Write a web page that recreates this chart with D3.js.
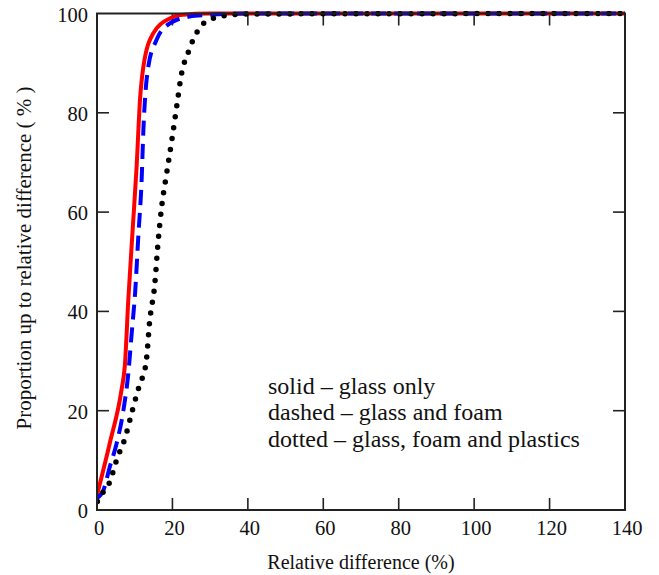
<!DOCTYPE html>
<html>
<head>
<meta charset="utf-8">
<script src="https://cdn.jsdelivr.net/npm/d3@7"></script>
<style>
  html, body { margin: 0; padding: 0; background: #fff; }
  svg text { font-family: "Liberation Serif", "Times New Roman", serif; fill: #111; }
</style>
</head>
<body>
<svg id="chart" width="659" height="575"></svg>
<script>
// Cumulative proportion (%) of samples up to a given relative difference (%)
const glassX = [0, 3.4, 6.5, 7.4, 8.3, 9.4, 10.5, 11.4, 12.3, 14.9, 19.3, 22, 30, 140];
const glassY = [3.0, 13.5, 24.2, 29.2, 42.3, 55.8, 69.1, 82.6, 89.3, 96.0, 99.0, 99.7, 100, 100];

const foamX = [0, 1.7, 3.4, 5.2, 7.0, 8.3, 9.2, 10.1, 11.0, 11.8, 12.3, 13.6, 15.8, 19.3, 24.6, 29, 40, 140];
const foamY = [2.4, 4.0, 8.7, 13.4, 20.1, 27.5, 35.6, 43.7, 55.7, 65.8, 76.5, 89.3, 94.7, 98.0, 99.4, 99.7, 100, 100];

const plasticsX = [0.1, 1.7, 3.4, 5.2, 7.4, 9.6, 11.2, 13.0, 14.0, 15.3, 16.2, 17.1, 18.4, 19.8, 21.1, 22.4, 24.2, 26.4, 28.1, 30.8, 33.4, 40, 140];
const plasticsY = [1.7, 3.7, 5.7, 10.1, 14.4, 20.7, 25.0, 29.6, 38.3, 45.3, 54.0, 60.8, 67.5, 74.3, 81.1, 87.8, 92.2, 96.1, 97.9, 99.0, 99.5, 99.9, 100];

const xTicks = [0, 20, 40, 60, 80, 100, 120, 140];
const yTicks = [0, 20, 40, 60, 80, 100];
const legendLines = ["solid \u2013 glass only", "dashed \u2013 glass and foam", "dotted \u2013 glass, foam and plastics"];

const svg = d3.select("#chart");
const plotL = 97, plotR = 625, plotT = 13.5, plotB = 510;

const x = d3.scaleLinear().domain([0, 140]).range([plotL, plotR]);
const y = d3.scaleLinear().domain([0, 100]).range([plotB, plotT]);

// tick marks on all four sides, pointing inward
const tickLen = 12;
const g = svg.append("g");
g.selectAll(".xt").data(xTicks.slice(1, -1)).join("g").each(function(d) {
  const s = d3.select(this);
  s.append("line").attr("x1", x(d)).attr("x2", x(d)).attr("y1", plotB).attr("y2", plotB - tickLen);
  s.append("line").attr("x1", x(d)).attr("x2", x(d)).attr("y1", plotT).attr("y2", plotT + tickLen);
});
g.selectAll(".yt").data(yTicks.slice(1, -1)).join("g").each(function(d) {
  const s = d3.select(this);
  s.append("line").attr("x1", plotL).attr("x2", plotL + tickLen).attr("y1", y(d)).attr("y2", y(d));
  s.append("line").attr("x1", plotR).attr("x2", plotR - tickLen).attr("y1", y(d)).attr("y2", y(d));
});
g.selectAll("line").attr("stroke", "#222").attr("stroke-width", 1.6);

// tick labels
svg.selectAll(".xl").data(xTicks).join("text")
  .attr("x", d => x(d) + 2).attr("y", 535).attr("text-anchor", "middle")
  .attr("font-size", 20.5).text(d => d);
svg.selectAll(".yl").data(yTicks).join("text")
  .attr("x", 88).attr("y", d => y(d) + 8).attr("text-anchor", "end")
  .attr("font-size", 20.5).text(d => d);

// curves
const line = d3.line().x(d => x(d[0])).y(d => y(d[1])).curve(d3.curveMonotoneX);
const zip = (a, b) => a.map((v, i) => [v, b[i]]);
svg.append("clipPath").attr("id", "plotclip")
  .append("rect").attr("x", plotL).attr("y", plotT - 3).attr("width", plotR - plotL).attr("height", plotB - plotT + 3);

const curves = svg.append("g").attr("clip-path", "url(#plotclip)");
curves.append("path").datum(zip(glassX, glassY)).attr("d", line)
  .attr("fill", "none").attr("stroke", "#ff0000").attr("stroke-width", 4);
curves.append("path").datum(zip(foamX, foamY)).attr("d", line)
  .attr("fill", "none").attr("stroke", "#0000ff").attr("stroke-width", 4)
  .attr("stroke-dasharray", "15,8");
curves.append("path").datum(zip(plasticsX, plasticsY)).attr("d", line)
  .attr("fill", "none").attr("stroke", "#000").attr("stroke-width", 5.5)
  .attr("stroke-linecap", "round").attr("stroke-dasharray", "0,11");

// frame
svg.append("rect").attr("x", plotL).attr("y", plotT).attr("width", plotR - plotL).attr("height", plotB - plotT)
  .attr("fill", "none").attr("stroke", "#222").attr("stroke-width", 2);

// axis titles
svg.append("text").attr("x", 361).attr("y", 569).attr("text-anchor", "middle")
  .attr("font-size", 20).text("Relative difference (%)");
svg.append("text").attr("transform", "translate(31,258) rotate(-90)").attr("text-anchor", "middle")
  .attr("font-size", 21).text("Proportion up to relative difference ( % )");

// legend text
svg.selectAll(".leg").data(legendLines).join("text")
  .attr("x", 268).attr("y", (d, i) => 393.5 + i * 26.7)
  .attr("font-size", 24).text(d => d);
</script>
</body>
</html>
